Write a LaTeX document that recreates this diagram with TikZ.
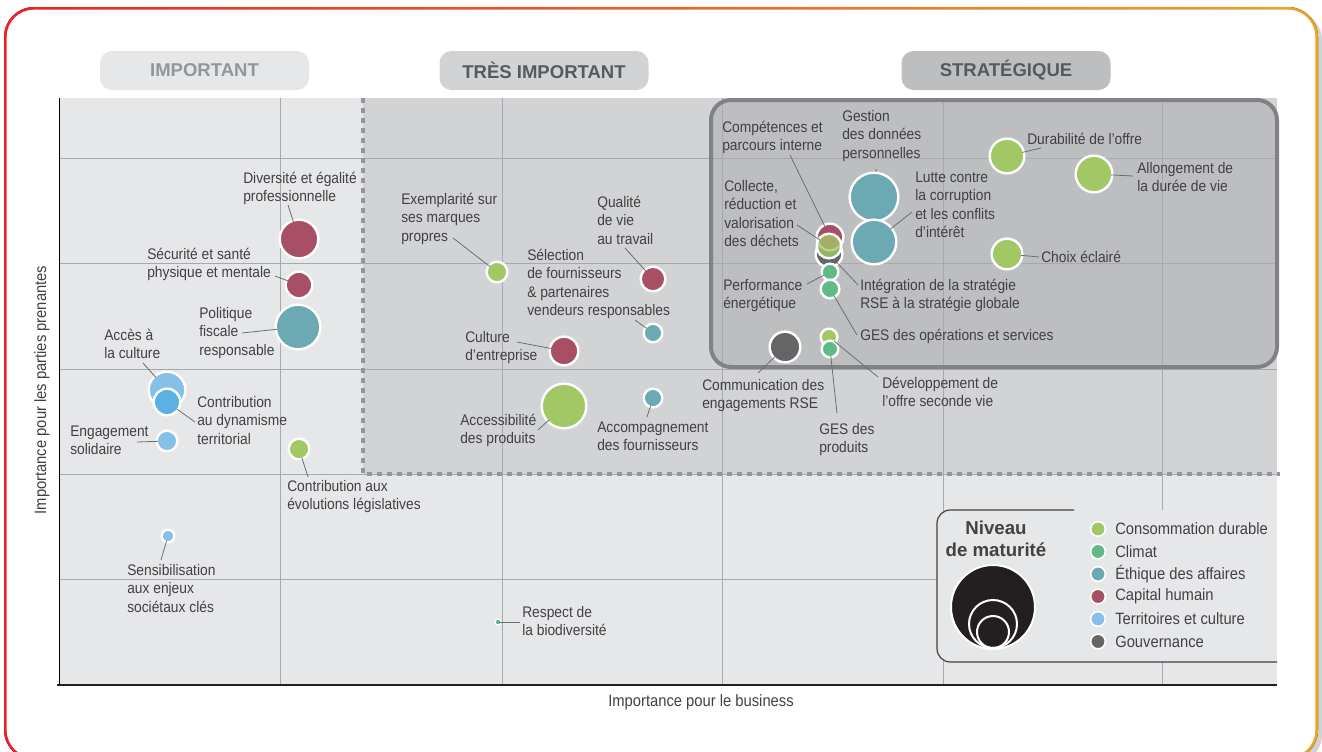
\documentclass[tikz,border=0pt]{standalone}
\usepackage{fontspec}
\setmainfont{Liberation Sans}[FakeStretch=0.9]
\newfontfamily\hdrfont{Liberation Sans}

\definecolor{cons}{HTML}{A2C865}
\definecolor{clim}{HTML}{5FBB86}
\definecolor{ethi}{HTML}{6BAAB2}
\definecolor{capi}{HTML}{A84F66}
\definecolor{terr}{HTML}{86BFE7}
\definecolor{terrb}{HTML}{5BB1E3}
\definecolor{gouv}{HTML}{646567}
\definecolor{bgl}{HTML}{E6E7E8}
\definecolor{bgm}{HTML}{D1D3D4}
\definecolor{bgd}{HTML}{BCBEC0}
\definecolor{frm}{HTML}{808285}
\definecolor{grd}{HTML}{A7A9AC}
\definecolor{txt}{HTML}{414042}
\definecolor{ldr}{HTML}{6D6E71}
\definecolor{hdrl}{HTML}{939598}
\definecolor{hdrd}{HTML}{58595B}
\definecolor{blk}{HTML}{231F20}
\definecolor{frl}{HTML}{EC2227}
\definecolor{frr}{HTML}{EEA424}

\begin{document}
\begin{tikzpicture}
  [x=0.75pt,y=-0.75pt,
   bub/.style={circle,inner sep=0pt,draw=white,line width=1.8pt,minimum size=#1*1.5pt-1pt},
   lbl/.style={anchor=base west,align=left,inner sep=0pt,text=txt,font=\fontsize{11.5}{13.7}\selectfont,yshift={-(#1-1)*13.7pt}},
   lbl/.default=1,
   leader/.style={draw=ldr,line width=0.6pt,shorten <=-2pt},
   hdr/.style={rounded corners=9pt,minimum width=156.75pt,minimum height=29.25pt,inner sep=0pt,font=\hdrfont\bfseries\fontsize{13.9}{16}\selectfont},
   swatch/.style={circle,inner sep=0pt,draw=white,line width=1.2pt,minimum size=11pt},
   big/.style={font=\fontsize{12.3}{14}\selectfont,text=txt,inner sep=0pt}]
  \useasboundingbox (0,0) rectangle (1322,751);

  % frame
  \fill[gray!35,rounded corners=22pt] (8,11) rectangle (1322,764);
  \fill[left color=frl,right color=frr,rounded corners=22.5pt] (4,7) rectangle (1318,760);
  \fill[white,rounded corners=20.5pt] (6.7,9.7) rectangle (1315.3,757.3);

  % zones
  \fill[bgl] (59,98) rectangle (1277,684);
  \fill[bgm] (363,98) rectangle (1277,474);
  \fill[bgd,rounded corners=15pt] (711,100) rectangle (1277,367);
  \foreach \x in {280,502,722,943,1162}
    \draw[grd,line width=0.75pt] (\x,98) -- (\x,684);
  \foreach \y in {158,263,369,474,579}
    \draw[grd,line width=0.75pt] (59,\y) -- (1277,\y);
  \draw[hdrl,line width=3pt,dash pattern=on 3.75pt off 3.75pt] (363,98) -- (363,474) -- (1280,474);
  \draw[frm,line width=3pt,rounded corners=15pt] (711,100) rectangle (1277,367);
  \draw[black,line width=0.75pt] (59,98) -- (59,685);
  \draw[blk,line width=1.8pt] (57,685) -- (1277,685);

  \node[hdr,fill=bgl,text=hdrl] (hImp) at (204.5,70.5) {IMPORTANT};
  \node[hdr,fill=bgm,text=hdrd] (hTres) at (544,70.5) {TRÈS IMPORTANT};
  \node[hdr,fill=bgd,text=hdrd] (hStrat) at (1006,70.5) {STRATÉGIQUE};

  % legend
  \fill[bgl] (950,510) rectangle (1277,662);
  \fill[bgl,rounded corners=10pt] (937,510) rectangle (970,662);
  \draw[blk!85,line width=0.9pt,rounded corners=10pt] (1074,510) -- (937,510) -- (937,662) -- (1277,662);
  \node[font=\hdrfont\bfseries\fontsize{14}{16.5}\selectfont,text=blk!85,align=center,inner sep=0pt] (kTitle) at (996,539) {Niveau\\de maturité};
  \node[circle,fill=blk,draw=white,line width=1.5pt,minimum size=63pt] (kBig) at (993,607) {};
  \node[circle,draw=white,line width=1.5pt,minimum size=36pt] (kMid) at (993,624) {};
  \node[circle,draw=white,line width=1.5pt,minimum size=24pt] (kSmall) at (993,632) {};
  \foreach \c/\t [count=\i] in {cons/Consommation durable,clim/Climat,ethi/Éthique des affaires,capi/Capital humain,terr/Territoires et culture,gouv/Gouvernance}{
    \node[swatch,fill=\c] (k\c) at (1098,506.5+22.5*\i) {};
    \node[big,anchor=west] (t\c) at (1115,506.5+22.5*\i) {\t};
  }

  \node[big] (xLab) at (701,702) {Importance pour le business};
  \node[big,rotate=90] (yLab) at (42,390) {Importance pour les parties prenantes};

  % bubbles
  \node[bub=20,fill=capi] (bDiv) at (299,239) {};
  \node[bub=14,fill=capi] (bSec) at (299,285) {};
  \node[bub=23,fill=ethi] (bPol) at (298,327) {};
  \node[bub=19,fill=terr] (bAcc) at (167,390) {};
  \node[bub=14,fill=terrb] (bCon) at (167,402) {};
  \node[bub=11,fill=terr] (bEng) at (167,441) {};
  \node[bub=11,fill=cons] (bLeg) at (299,449) {};
  \node[bub=7,fill=terr] (bSen) at (168,536) {};
  \node[circle,inner sep=0pt,draw=white,line width=1pt,minimum size=4.5pt,fill=clim] (bBio) at (498,622) {};
  \node[bub=11,fill=cons] (bExe) at (497,272) {};
  \node[bub=13,fill=capi] (bQua) at (653,279) {};
  \node[bub=10,fill=ethi] (bSel) at (653,333) {};
  \node[bub=15,fill=capi] (bCul) at (564,351) {};
  \node[bub=23,fill=cons] (bAcs) at (564,406) {};
  \node[bub=10,fill=ethi] (bAco) at (653,398) {};
  \node[bub=25,fill=ethi] (bGest) at (874,197) {};
  \node[bub=23,fill=ethi] (bLut) at (874,242) {};
  \node[bub=14,fill=gouv] (bInt) at (829,254) {};
  \node[bub=14,fill=capi] (bComp) at (830,237) {};
  \node[bub=13,fill=cons,fill opacity=0.8] (bColl) at (829,246) {};
  \node[bub=9,fill=clim] (bPerf) at (830,272) {};
  \node[bub=10,fill=clim] (bGESop) at (830,289) {};
  \node[bub=9,fill=cons] (bDev) at (829,337) {};
  \node[bub=9,fill=clim] (bGESp) at (830,349) {};
  \node[bub=16,fill=gouv] (bComm) at (785,347) {};
  \node[bub=18,fill=cons] (bDur) at (1007,156) {};
  \node[bub=19,fill=cons] (bAll) at (1094,174) {};
  \node[bub=16,fill=cons] (bCho) at (1007,254) {};

  % labels
  \node[lbl=2] (tDiv) at (243,183) {Diversité et égalité\\professionnelle};
  \node[lbl=2] (tSec) at (147,259.5) {Sécurité et santé\\physique et mentale};
  \node[lbl=3] (tPol) at (199,318.5) {Politique\\fiscale\\responsable};
  \node[lbl=2] (tAcc) at (104,340.5) {Accès à\\la culture};
  \node[lbl=3] (tCon) at (197,407.5) {Contribution\\au dynamisme\\territorial};
  \node[lbl=2] (tEng) at (70,436.5) {Engagement\\solidaire};
  \node[lbl=2] (tLeg) at (287,491.5) {Contribution aux\\évolutions législatives};
  \node[lbl=3] (tSen) at (127,575.5) {Sensibilisation\\aux enjeux\\sociétaux clés};
  \node[lbl=2] (tBio) at (522,617.5) {Respect de\\la biodiversité};
  \node[lbl=3] (tExe) at (401,204.5) {Exemplarité sur\\ses marques\\propres};
  \node[lbl=3] (tQua) at (597,207.5) {Qualité\\de vie\\au travail};
  \node[lbl=4] (tSel) at (527,260.5) {Sélection\\de fournisseurs\\\& partenaires\\vendeurs responsables};
  \node[lbl=2] (tCul) at (465,342.5) {Culture\\d’entreprise};
  \node[lbl=2] (tAcs) at (460,425.5) {Accessibilité\\des produits};
  \node[lbl=2] (tAco) at (597,432.5) {Accompagnement\\des fournisseurs};
  \node[lbl=2] (tComp) at (722,132.5) {Compétences et\\parcours interne};
  \node[lbl=3] (tGest) at (842,121.5) {Gestion\\des données\\personnelles};
  \node[lbl=4] (tColl) at (724,191.5) {Collecte,\\réduction et\\valorisation\\des déchets};
  \node[lbl=4] (tLut) at (915,182.5) {Lutte contre\\la corruption\\et les conflits\\d’intérêt};
  \node[lbl=2] (tPerf) at (723,290.5) {Performance\\énergétique};
  \node[lbl=2] (tInt) at (860,290.5) {Intégration de la stratégie\\RSE à la stratégie globale};
  \node[lbl] (tGESop) at (860,340.5) {GES des opérations et services};
  \node[lbl=2] (tDev) at (882,388.5) {Développement de\\l’offre seconde vie};
  \node[lbl=2] (tGESp) at (819,434.5) {GES des\\produits};
  \node[lbl=2] (tComm) at (702,390.5) {Communication des\\engagements RSE};
  \node[lbl] (tDur) at (1027,144.5) {Durabilité de l’offre};
  \node[lbl=2] (tAll) at (1137,173.5) {Allongement de\\la durée de vie};
  \node[lbl] (tCho) at (1041,262.5) {Choix éclairé};

  % leader ends
  \coordinate (eDiv) at (288,205);
  \coordinate (eSec) at (275,276);
  \coordinate (ePol) at (242,333);
  \coordinate (eAcc) at (143,363);
  \coordinate (eCon) at (195,422);
  \coordinate (eEng) at (137,442);
  \coordinate (eLeg) at (308,477);
  \coordinate (eSen) at (161,560);
  \coordinate (eBio) at (520,622);
  \coordinate (eExe) at (453,238);
  \coordinate (eQua) at (625,248);
  \coordinate (eSel) at (635,320);
  \coordinate (eCul) at (517,342);
  \coordinate (eAcs) at (538,430);
  \coordinate (eAco) at (647,417);
  \coordinate (eComp) at (790,155);
  \coordinate (eGest) at (876,172);
  \coordinate (eColl) at (797,225);
  \coordinate (eLut) at (912,212);
  \coordinate (ePerf) at (807,284);
  \coordinate (eInt) at (858,285);
  \coordinate (eGESop) at (857,335);
  \coordinate (eDev) at (878,377);
  \coordinate (eGESp) at (837,413);
  \coordinate (eComm) at (758,373);
  \coordinate (eDur) at (1041,148);
  \coordinate (eAll) at (1133,176);
  \coordinate (eCho) at (1039,257);

  \foreach \from/\to in {bDiv/eDiv,bSec/eSec,bPol/ePol,bAcc/eAcc,bCon/eCon,bEng/eEng,bLeg/eLeg,bSen/eSen,bBio/eBio,
    bExe/eExe,bQua/eQua,bSel/eSel,bCul/eCul,bAcs/eAcs,bAco/eAco,bComp/eComp,bGest/eGest,bColl/eColl,bLut/eLut,
    bPerf/ePerf,bInt/eInt,bGESop/eGESop,bDev/eDev,bGESp/eGESp,bComm/eComm,bDur/eDur,bAll/eAll,bCho/eCho}
    \draw[leader] (\from) -- (\to);

\end{tikzpicture}
\end{document}
